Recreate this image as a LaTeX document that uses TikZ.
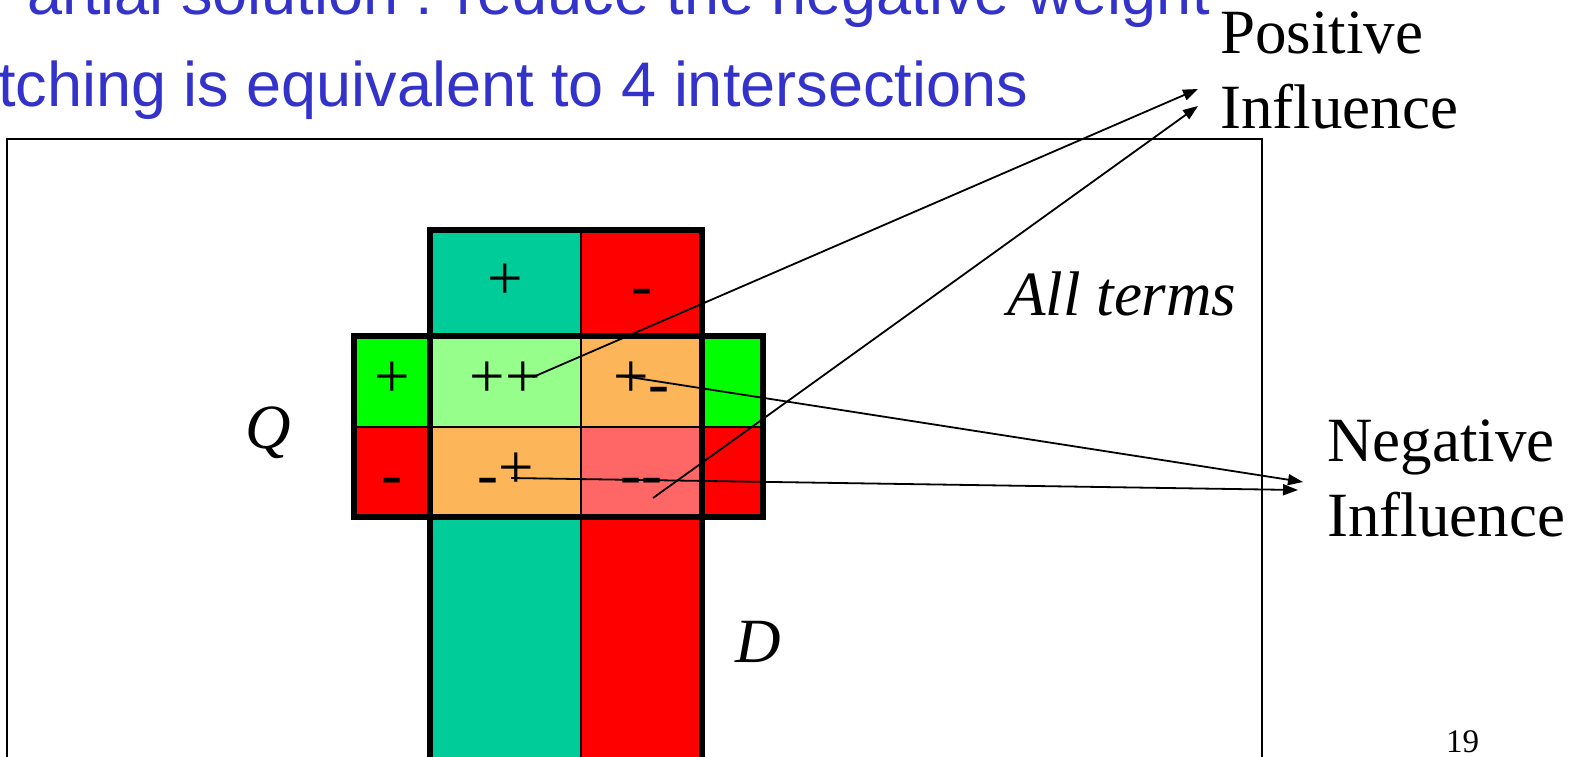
\documentclass[tikz,border=0pt]{standalone}
\usepackage{fontspec}
\setmainfont{Liberation Serif}
\newfontfamily\arialfont{Liberation Sans}
\usepackage{tikz}
\usetikzlibrary{arrows.meta,calc}
\definecolor{termTeal}{RGB}{0,204,153}
\definecolor{termRed}{RGB}{255,0,0}
\definecolor{termGreen}{RGB}{0,255,0}
\definecolor{pairPos}{RGB}{150,255,140}
\definecolor{pairMix}{RGB}{253,181,89}
\definecolor{pairNeg}{RGB}{255,102,102}
\definecolor{titleBlue}{RGB}{51,51,204}
\newcommand{\mns}{\raisebox{-7pt}{-}}

\begin{document}
\begin{tikzpicture}[
  x=1pt, y=-1pt,
  cell/.style={rectangle, inner sep=0pt, outer sep=0pt, text height=32pt, text depth=0pt, font=\fontsize{63}{63}\selectfont},
  colQ/.style={cell, minimum width=76pt},
  colR/.style={cell, minimum width=61pt},
  colP/.style={cell, minimum width=151pt},
  colN/.style={cell, minimum width=121pt},
  divider/.style={line width=2.5pt},
  outline/.style={line width=6pt},
  arr/.style={-{Triangle[length=15pt, width=11pt]}, line width=1.8pt},
  lbl/.style={inner sep=0pt, font=\fontsize{63}{75}\selectfont, align=left},
  title/.style={inner sep=0pt, anchor=base west, text=titleBlue, font=\arialfont\fontsize{63}{63}\selectfont},
]
\useasboundingbox (0,0) rectangle (1581,756);
\fill[white] (0,0) rectangle (1581,756);

% --- slide title (cut off) ---
\node[title] (title1) at (27,14) {artial solution : reduce the negative weight};
\node[title] (title2) at (-2,106) {tching is equivalent to 4 intersections};

% --- frame of all terms ---
\draw[line width=2pt] (7,139) rectangle (1262,800);
\node[lbl, anchor=base west] (allTerms) at (1007,315) {\itshape All terms};

% --- document column D ---
\node[colP, fill=termTeal, minimum height=106pt] (dPos) at (505.5,283) {+};
\node[colN, fill=termRed, minimum height=106pt] (dNeg) at (641.5,283) {\mns};
\node[colP, fill=termTeal, minimum height=253pt] (dPosLow) at (505.5,643.5) {};
\node[colN, fill=termRed, minimum height=253pt] (dNegLow) at (641.5,643.5) {};

% --- query bar Q ---
\node[colQ, fill=termGreen, minimum height=91pt] (qPos) at (392,381.5) {+};
\node[colQ, fill=termRed, minimum height=90pt] (qNeg) at (392,472) {\mns};
\node[colR, fill=termGreen, minimum height=91pt] (rPos) at (732.5,381.5) {};
\node[colR, fill=termRed, minimum height=90pt] (rNeg) at (732.5,472) {};

% --- intersections ---
\node[colP, fill=pairPos, minimum height=91pt] (pp) at (505.5,381.5) {++};
\node[colN, fill=pairMix, minimum height=91pt] (pm) at (641.5,381.5) {+\mns};
\node[colP, fill=pairMix, minimum height=90pt] (mp) at (505.5,472) {\mns+};
\node[colN, fill=pairNeg, minimum height=90pt] (mm) at (641.5,472) {\mns\mns};

% --- grid lines ---
\draw[divider] (dPos.north east) -- (dNegLow.south west);
\draw[divider] (qNeg.north west) -- (rNeg.north east);
\draw[outline] (dPos.north west) rectangle (dNegLow.south east);
\draw[outline] (qPos.north west) rectangle (rNeg.south east);

\node[lbl, anchor=base west] (qLabel) at (245,448) {\itshape Q};
\node[lbl, anchor=base west] (dLabel) at (735,662) {\itshape D};

% --- influence labels ---
\node[lbl, anchor=north west] (posInf) at (1220,12) {Positive\\Influence};
\node[lbl, anchor=north west] (negInf) at (1327,420) {Negative\\Influence};
\node[inner sep=0pt, anchor=base west, font=\fontsize{33}{33}\selectfont] (pageNo) at (1446,752) {19};

% --- arrows ---
\coordinate (ppFrom) at (533,377);
\coordinate (mmFrom) at (653,498);
\coordinate (pmFrom) at (623,376);
\coordinate (mpFrom) at (511,478);
\coordinate (posTipA) at (1198,89);
\coordinate (posTipB) at (1198,106);
\coordinate (negTipA) at (1303,482);
\coordinate (negTipB) at (1298,490);
\draw[arr] (ppFrom) -- (posTipA);
\draw[arr] (mmFrom) -- (posTipB);
\draw[arr] (pmFrom) -- (negTipA);
\draw[arr] (mpFrom) -- (negTipB);
\end{tikzpicture}
\end{document}
